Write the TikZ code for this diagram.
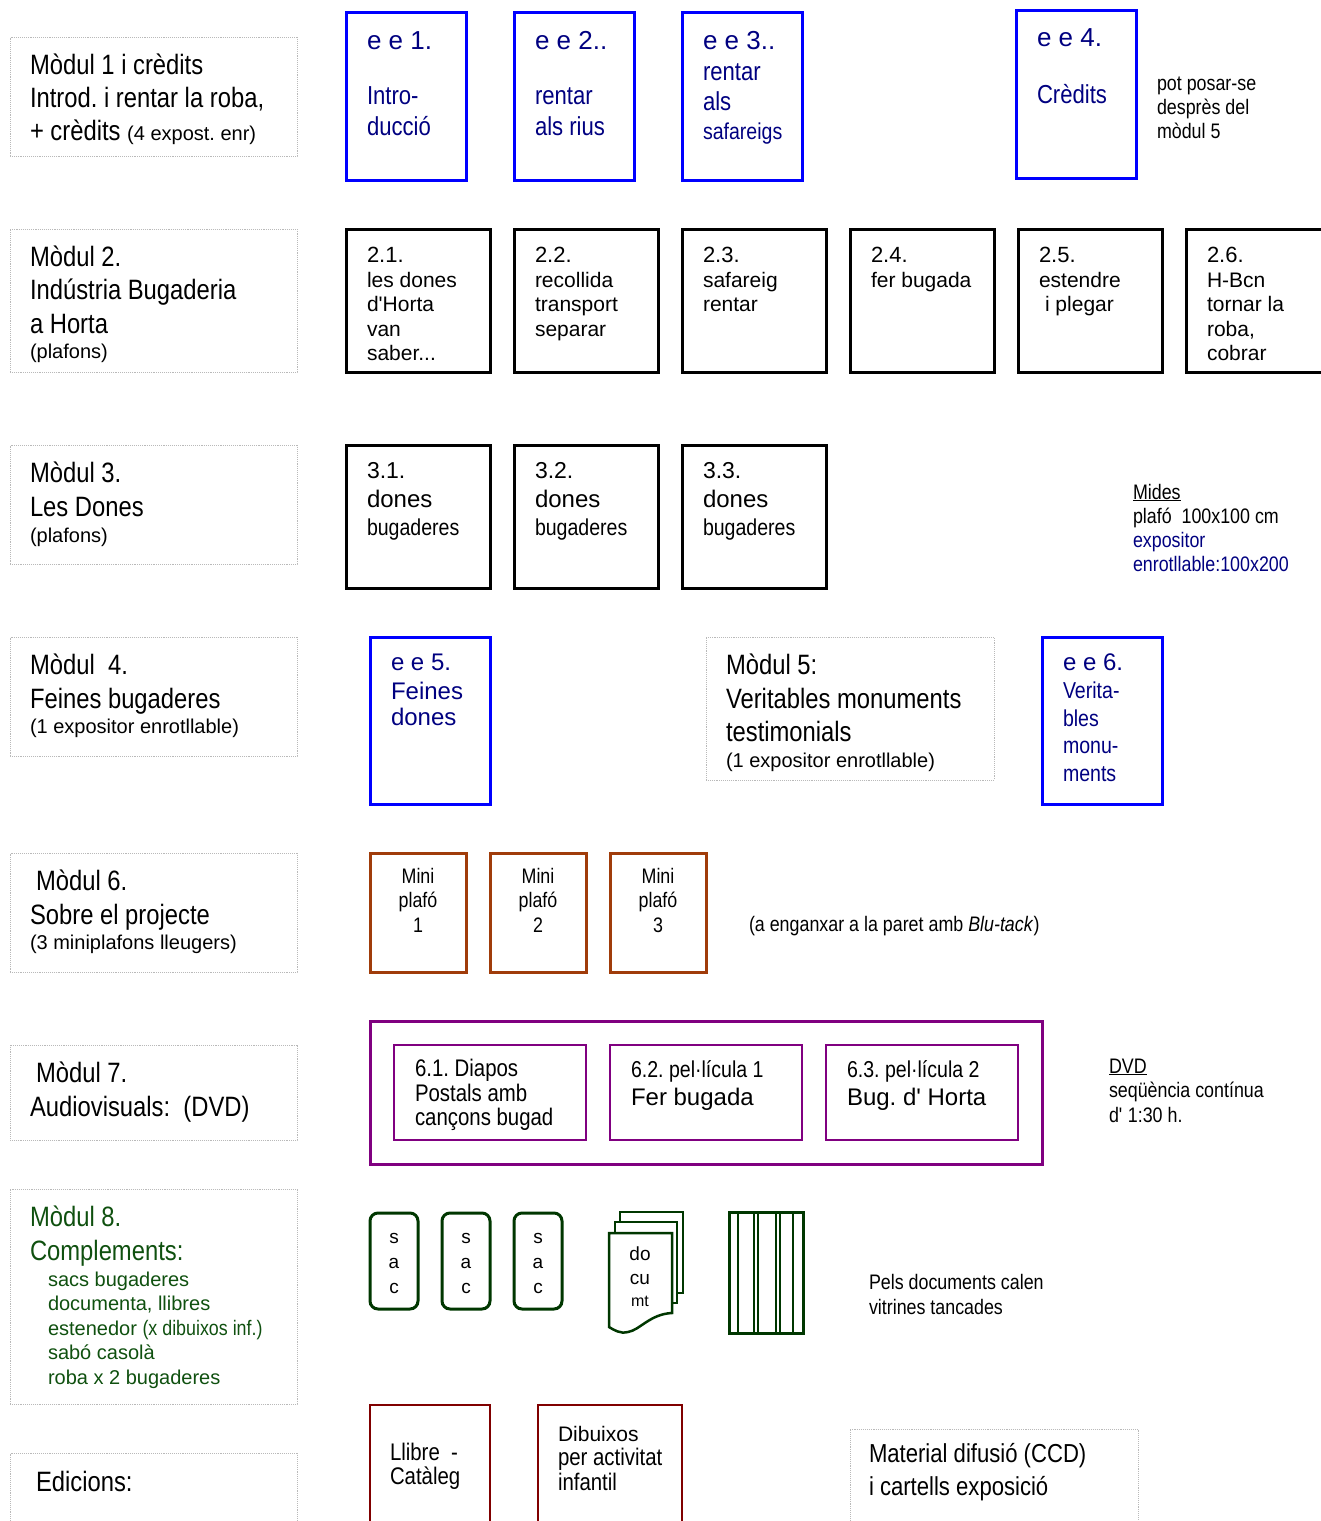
\documentclass[tikz,border=0pt]{standalone}
\usepackage{fontspec}
\setmainfont{Liberation Sans}
\newfontfamily\narfam[FakeStretch=0.85]{Liberation Sans}
\newcommand\fN[1]{\narfam\fontsize{#1}{#1}\selectfont}
\newcommand\fR[1]{\normalfont\fontsize{#1}{#1}\selectfont}
\newcommand\sq{\textquotesingle}
\frenchspacing
\definecolor{navyt}{RGB}{0,0,128}
\definecolor{bluebd}{RGB}{0,0,255}
\definecolor{brownbd}{RGB}{160,60,10}
\definecolor{purp}{RGB}{128,0,128}
\definecolor{dgreen}{RGB}{0,55,0}
\definecolor{tgreen}{RGB}{15,80,15}
\definecolor{dred}{RGB}{128,0,0}
\definecolor{grayb}{RGB}{185,185,185}
\tikzset{
  bx/.style={anchor=north west, inner sep=0, outer sep=0},
  gbox/.style={bx, draw=grayb, densely dotted, line width=0.9pt},
  bbox/.style={bx, draw=bluebd, line width=3pt},
  kbox/.style={bx, draw=black, line width=3pt},
  mbox/.style={bx, draw=brownbd, line width=3pt},
  pbox/.style={bx, draw=purp, line width=3pt},
  sbox/.style={bx, draw=dgreen, line width=3pt, rounded corners=8pt},
  rbox/.style={bx, draw=dred, line width=2.2pt},
  t/.style={anchor=base west, inner sep=0, outer sep=0},
  tc/.style={anchor=base, inner sep=0, outer sep=0},
}
\begin{document}
\begin{tikzpicture}[x=1pt,y=-1pt]
\useasboundingbox (0,0) rectangle (1321,1521);

% ---------- left module boxes ----------
\node[gbox, minimum width=287pt, minimum height=119pt] (g1) at (10,37) {};
\node[gbox, minimum width=287pt, minimum height=143pt] (g2) at (10,229) {};
\node[gbox, minimum width=287pt, minimum height=119pt] (g3) at (10,445) {};
\node[gbox, minimum width=287pt, minimum height=119pt] (g4) at (10,637) {};
\node[gbox, minimum width=288pt, minimum height=143pt] (g5) at (706,637) {};
\node[gbox, minimum width=287pt, minimum height=119pt] (g6) at (10,853) {};
\node[gbox, minimum width=287pt, minimum height=95pt] (g7) at (10,1045) {};
\node[gbox, minimum width=287pt, minimum height=215pt] (g8) at (10,1189) {};
\node[gbox, minimum width=287pt, minimum height=100pt] (g9) at (10,1453) {};
\node[gbox, minimum width=288pt, minimum height=120pt] (g10) at (850,1429) {};

\node[t] (m1a) at (30,74) {\fN{28}Mòdul 1 i crèdits};
\node[t] (m1b) at (30,107) {\fN{28}Introd. i rentar la roba,};
\node[t] (m1c) at (30,140) {\fN{28}+ crèdits {\fR{20}(4 expost. enr)}};

\node[t] (m2a) at (30,266) {\fN{28}Mòdul 2.};
\node[t] (m2b) at (30,299) {\fN{28}Indústria Bugaderia};
\node[t] (m2c) at (30,333) {\fN{28}a Horta};
\node[t] (m2d) at (30,358) {\fR{20}(plafons)};

\node[t] (m3a) at (30,482) {\fN{28}Mòdul 3.};
\node[t] (m3b) at (30,516) {\fN{28}Les Dones};
\node[t] (m3c) at (30,542) {\fR{20}(plafons)};

\node[t] (m4a) at (30,674) {\fN{28}Mòdul\ \ 4.};
\node[t] (m4b) at (30,708) {\fN{28}Feines bugaderes};
\node[t] (m4c) at (30,733) {\fR{20}(1 expositor enrotllable)};

\node[t] (m5a) at (726,674) {\fN{28}Mòdul 5:};
\node[t] (m5b) at (726,708) {\fN{28}Veritables monuments};
\node[t] (m5c) at (726,741) {\fN{28}testimonials};
\node[t] (m5d) at (726,767) {\fR{20}(1 expositor enrotllable)};

\node[t] (m6a) at (36,890) {\fN{28}Mòdul 6.};
\node[t] (m6b) at (30,924) {\fN{28}Sobre el projecte};
\node[t] (m6c) at (30,949) {\fR{20}(3 miniplafons lleugers)};

\node[t] (m7a) at (36,1082) {\fN{28}Mòdul 7.};
\node[t] (m7b) at (30,1116) {\fN{28}Audiovisuals:\ \ (DVD)};

\begin{scope}[every node/.append style={text=tgreen}]
\node[t] (m8a) at (30,1226) {\fN{28}Mòdul 8.};
\node[t] (m8b) at (30,1260) {\fN{28}Complements:};
\node[t] (m8c) at (48,1286) {\fR{20}sacs bugaderes};
\node[t] (m8d) at (48,1310) {\fR{20}documenta, llibres};
\node[t] (m8e) at (48,1335) {\fR{20}estenedor {\fN{21}(x dibuixos inf.)}};
\node[t] (m8f) at (48,1359) {\fR{20}sabó casolà};
\node[t] (m8g) at (48,1384) {\fR{20}roba x 2 bugaderes};
\end{scope}

\node[t] (ed) at (36,1491) {\fN{28}Edicions:};

% ---------- row 1: blue ----------
\node[bbox, minimum width=120pt, minimum height=168pt] (ee1) at (346,12) {};
\node[bbox, minimum width=120pt, minimum height=168pt] (ee2) at (514,12) {};
\node[bbox, minimum width=120pt, minimum height=168pt] (ee3) at (682,12) {};
\node[bbox, minimum width=120pt, minimum height=168pt] (ee4) at (1016,10) {};
\begin{scope}[every node/.append style={text=navyt}]
\node[t] (ee1a) at (367,49) {\fR{26}e e 1.};
\node[t] (ee1b) at (367,104) {\fN{26}Intro-};
\node[t] (ee1c) at (367,135) {\fN{26}ducció};
\node[t] (ee2a) at (535,49) {\fR{26}e e 2..};
\node[t] (ee2b) at (535,104) {\fN{26}rentar};
\node[t] (ee2c) at (535,135) {\fN{26}als rius};
\node[t] (ee3a) at (703,49) {\fR{26}e e 3..};
\node[t] (ee3b) at (703,80) {\fN{26}rentar};
\node[t] (ee3c) at (703,110) {\fN{26}als};
\node[t] (ee3d) at (703,139) {\fN{23}safareigs};
\node[t] (ee4a) at (1037,46) {\fR{26}e e 4.};
\node[t] (ee4b) at (1037,103) {\fN{26}Crèdits};
\end{scope}
\node[t] (pp1) at (1157,90) {\fN{21}pot posar-se};
\node[t] (pp2) at (1157,114) {\fN{21}desprès del};
\node[t] (pp3) at (1157,138) {\fN{21}mòdul 5};

% ---------- row 2 ----------
\node[kbox, minimum width=144pt, minimum height=143pt] (r21) at (346,229) {};
\node[kbox, minimum width=144pt, minimum height=143pt] (r22) at (514,229) {};
\node[kbox, minimum width=144pt, minimum height=143pt] (r23) at (682,229) {};
\node[kbox, minimum width=144pt, minimum height=143pt] (r24) at (850,229) {};
\node[kbox, minimum width=144pt, minimum height=143pt] (r25) at (1018,229) {};
\node[kbox, minimum width=160pt, minimum height=143pt] (r26) at (1186,229) {};
\node[t] (r21a) at (367,262) {\fR{22}2.1.};
\node[t] (r21b) at (367,287) {\fR{21}les dones};
\node[t] (r21c) at (367,311) {\fR{21}d\sq Horta};
\node[t] (r21d) at (367,336) {\fR{21}van};
\node[t] (r21e) at (367,360) {\fR{21}saber...};
\node[t] (r22a) at (535,262) {\fR{22}2.2.};
\node[t] (r22b) at (535,287) {\fR{21}recollida};
\node[t] (r22c) at (535,311) {\fR{21}transport};
\node[t] (r22d) at (535,336) {\fR{21}separar};
\node[t] (r23a) at (703,262) {\fR{22}2.3.};
\node[t] (r23b) at (703,287) {\fR{21}safareig};
\node[t] (r23c) at (703,311) {\fR{21}rentar};
\node[t] (r24a) at (871,262) {\fR{22}2.4.};
\node[t] (r24b) at (871,287) {\fR{21}fer bugada};
\node[t] (r25a) at (1039,262) {\fR{22}2.5.};
\node[t] (r25b) at (1039,287) {\fR{21}estendre};
\node[t] (r25c) at (1045,311) {\fR{21}i plegar};
\node[t] (r26a) at (1207,262) {\fR{22}2.6.};
\node[t] (r26b) at (1207,287) {\fR{21}H-Bcn};
\node[t] (r26c) at (1207,311) {\fR{21}tornar la};
\node[t] (r26d) at (1207,336) {\fR{21}roba,};
\node[t] (r26e) at (1207,360) {\fR{21}cobrar};

% ---------- row 3 ----------
\node[kbox, minimum width=144pt, minimum height=143pt] (r31) at (346,445) {};
\node[kbox, minimum width=144pt, minimum height=143pt] (r32) at (514,445) {};
\node[kbox, minimum width=144pt, minimum height=143pt] (r33) at (682,445) {};
\node[t] (r31a) at (367,478) {\fR{23}3.1.};
\node[t] (r31b) at (367,507) {\fR{24}dones};
\node[t] (r31c) at (367,535) {\fN{23}bugaderes};
\node[t] (r32a) at (535,478) {\fR{23}3.2.};
\node[t] (r32b) at (535,507) {\fR{24}dones};
\node[t] (r32c) at (535,535) {\fN{23}bugaderes};
\node[t] (r33a) at (703,478) {\fR{23}3.3.};
\node[t] (r33b) at (703,507) {\fR{24}dones};
\node[t] (r33c) at (703,535) {\fN{23}bugaderes};
\node[t] (md1) at (1133,499) {\fN{21}\underline{Mides}};
\node[t] (md2) at (1133,523) {\fN{21}plafó\ \ 100x100 cm};
\node[t, text=navyt] (md3) at (1133,547) {\fN{21}expositor};
\node[t, text=navyt] (md4) at (1133,571) {\fN{21}enrotllable:100x200};

% ---------- row 4 ----------
\node[bbox, minimum width=120pt, minimum height=167pt] (ee5) at (370,637) {};
\node[bbox, minimum width=120pt, minimum height=167pt] (ee6) at (1042,637) {};
\begin{scope}[every node/.append style={text=navyt}]
\node[t] (ee5a) at (391,670) {\fR{24}e e 5.};
\node[t] (ee5b) at (391,699) {\fR{24}Feines};
\node[t] (ee5c) at (391,725) {\fR{24}dones};
\node[t] (ee6a) at (1063,670) {\fR{24}e e 6.};
\node[t] (ee6b) at (1063,698) {\fN{23}Verita-};
\node[t] (ee6c) at (1063,726) {\fN{23}bles};
\node[t] (ee6d) at (1063,753) {\fN{23}monu-};
\node[t] (ee6e) at (1063,781) {\fN{23}ments};
\end{scope}

% ---------- row 6 ----------
\node[mbox, minimum width=96pt, minimum height=119pt] (mp1) at (370,853) {};
\node[mbox, minimum width=96pt, minimum height=119pt] (mp2) at (490,853) {};
\node[mbox, minimum width=96pt, minimum height=119pt] (mp3) at (610,853) {};
\node[tc] (mp1a) at (418,883) {\fN{21}Mini};
\node[tc] (mp1b) at (418,907) {\fN{21}plafó};
\node[tc] (mp1c) at (418,932) {\fN{21}1};
\node[tc] (mp2a) at (538,883) {\fN{21}Mini};
\node[tc] (mp2b) at (538,907) {\fN{21}plafó};
\node[tc] (mp2c) at (538,932) {\fN{21}2};
\node[tc] (mp3a) at (658,883) {\fN{21}Mini};
\node[tc] (mp3b) at (658,907) {\fN{21}plafó};
\node[tc] (mp3c) at (658,932) {\fN{21}3};
\node[t] (blu) at (749,931) {\fN{21}(a enganxar a la paret amb \textit{Blu-tack})};

% ---------- row 7 ----------
\node[pbox, minimum width=672pt, minimum height=143pt] (av) at (370,1021) {};
\node[pbox, line width=2.5pt, minimum width=192pt, minimum height=95pt] (av1) at (394,1045) {};
\node[pbox, line width=2.5pt, minimum width=192pt, minimum height=95pt] (av2) at (610,1045) {};
\node[pbox, line width=2.5pt, minimum width=192pt, minimum height=95pt] (av3) at (826,1045) {};
\node[t] (av1a) at (415,1076) {\fN{24}6.1. Diapos};
\node[t] (av1b) at (415,1101) {\fN{24}Postals amb};
\node[t] (av1c) at (415,1125) {\fN{24}cançons bugad};
\node[t] (av2a) at (631,1077) {\fN{23}6.2. pel·lícula 1};
\node[t] (av2b) at (631,1105) {\fR{24}Fer bugada};
\node[t] (av3a) at (847,1077) {\fN{23}6.3. pel·lícula 2};
\node[t] (av3b) at (847,1105) {\fR{24}Bug. d\sq{} Horta};
\node[t] (dvd1) at (1109,1073) {\fN{21}\underline{DVD}};
\node[t] (dvd2) at (1109,1097) {\fN{21}seqüència contínua};
\node[t] (dvd3) at (1109,1122) {\fN{21}d\sq{} 1:30 h.};

% ---------- row 8 ----------
\node[sbox, minimum width=48pt, minimum height=96pt] (sac1) at (370,1213) {};
\node[sbox, minimum width=48pt, minimum height=96pt] (sac2) at (442,1213) {};
\node[sbox, minimum width=48pt, minimum height=96pt] (sac3) at (514,1213) {};
\foreach \cx/\n in {394/1,466/2,538/3}{
  \node[tc] (s\n a) at (\cx,1243) {\fR{19}s};
  \node[tc] (s\n b) at (\cx,1268) {\fR{19}a};
  \node[tc] (s\n c) at (\cx,1293) {\fR{19}c};
}
% document stack
\draw[dgreen, line width=2.5pt, fill=white] (620,1212) rectangle (683,1293);
\draw[dgreen, line width=2.5pt, fill=white] (615,1222) rectangle (677,1303);
\draw[dgreen, line width=2.5pt, fill=white, line join=miter]
  (609,1233) -- (672,1233) -- (672,1313)
  .. controls (650,1314) and (640,1330) .. (628,1332)
  .. controls (620,1334) and (614,1330) .. (609,1327) -- cycle;
\node[tc] (doc1) at (640,1260) {\fR{19}do};
\node[tc] (doc2) at (640,1284) {\fR{19}cu};
\node[tc] (doc3) at (640,1306) {\fR{16}mt};
% rack
\draw[dgreen, line width=3pt] (729,1212) rectangle (803,1333);
\foreach \xx in {738,754,758,776,780,793}{
  \draw[dgreen, line width=2.5pt] (\xx,1212) -- (\xx,1333);
}
\node[t] (pd1) at (869,1289) {\fN{21}Pels documents calen};
\node[t] (pd2) at (869,1314) {\fN{21}vitrines tancades};

% ---------- editions ----------
\node[rbox, minimum width=120pt, minimum height=130pt] (lb1) at (370,1405) {};
\node[rbox, minimum width=144pt, minimum height=130pt] (lb2) at (538,1405) {};
\node[t] (lb1a) at (390,1460) {\fN{24}Llibre\ \ -};
\node[t] (lb1b) at (390,1484) {\fN{24}Catàleg};
\node[t] (lb2a) at (558,1441) {\fR{21}Dibuixos};
\node[t] (lb2b) at (558,1465) {\fN{24}per activitat};
\node[t] (lb2c) at (558,1490) {\fN{24}infantil};
\node[t] (cd1) at (869,1462) {\fN{26}Material difusió (CCD)};
\node[t] (cd2) at (869,1495) {\fN{26}i cartells exposició};
\end{tikzpicture}
\end{document}
